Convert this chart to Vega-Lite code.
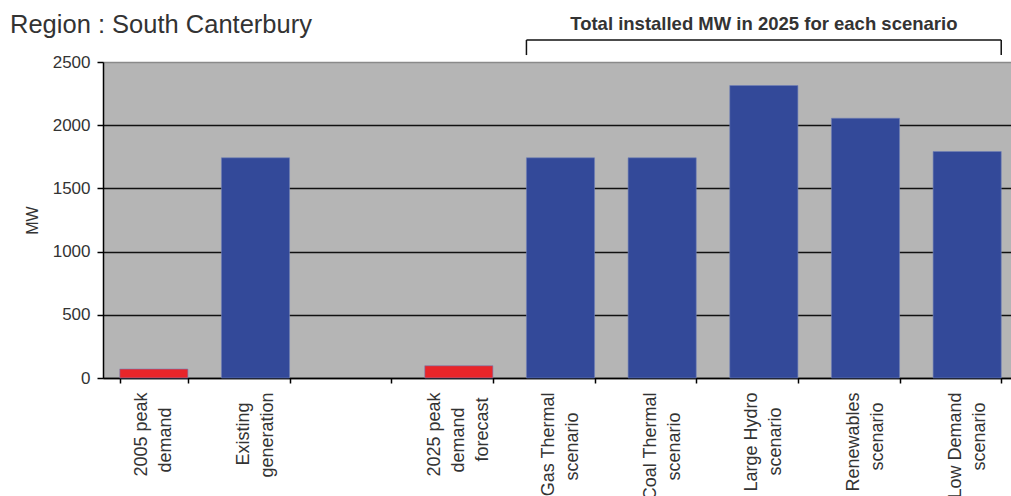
{
  "$schema": "https://vega.github.io/schema/vega-lite/v6.json",
  "autosize": "none",
  "padding": {"left": 103, "top": 62, "right": 0, "bottom": 118},
  "width": 915,
  "height": 316,
  "background": "#ffffff",
  "title": {
    "text": "Region : South Canterbury",
    "anchor": "start",
    "frame": "group",
    "font": "Liberation Sans",
    "fontSize": 25.5,
    "fontWeight": "normal",
    "color": "#333333",
    "dx": -93,
    "offset": 0,
    "dy": 23
  },
  "config": {
    "font": "Liberation Sans",
    "view": {"fill": "#b5b5b5", "stroke": "#8a8a8a", "strokeWidth": 1}
  },
  "datasets": {
    "capacity": [
      {"category": "2005 peak|demand", "type": "demand", "mw": 71},
      {"category": "Existing|generation", "type": "generation", "mw": 1742},
      {"category": "2025 peak|demand|forecast", "type": "demand", "mw": 97},
      {"category": "Gas  Thermal|scenario", "type": "generation", "mw": 1742},
      {"category": "Coal Thermal|scenario", "type": "generation", "mw": 1742},
      {"category": "Large Hydro|scenario", "type": "generation", "mw": 2314},
      {"category": "Renewables|scenario", "type": "generation", "mw": 2055},
      {"category": "Low Demand|scenario", "type": "generation", "mw": 1792}
    ]
  },
  "data": {"name": "capacity"},
  "layer": [
    {
      "mark": {"type": "bar", "stroke": "#7080b8", "strokeWidth": 1, "strokeOpacity": 0.6},
      "encoding": {
        "x": {
          "field": "category",
          "type": "nominal",
          "sort": null,
          "scale": {
            "domain": [
              "2005 peak|demand",
              "Existing|generation",
              " ",
              "2025 peak|demand|forecast",
              "Gas  Thermal|scenario",
              "Coal Thermal|scenario",
              "Large Hydro|scenario",
              "Renewables|scenario",
              "Low Demand|scenario"
            ],
            "paddingInner": 0.33,
            "paddingOuter": 0.165
          },
          "axis": {
            "title": null,
            "labelExpr": "length(split(datum.label, '|')) == 3 ? [pad(split(datum.label, '|')[0], max(length(split(datum.label, '|')[0]), length(split(datum.label, '|')[1]), length(split(datum.label, '|')[2])), '\u00a0') + '\u200b', pad(split(datum.label, '|')[1], max(length(split(datum.label, '|')[0]), length(split(datum.label, '|')[1]), length(split(datum.label, '|')[2])), '\u00a0') + '\u200b', pad(split(datum.label, '|')[2], max(length(split(datum.label, '|')[0]), length(split(datum.label, '|')[1]), length(split(datum.label, '|')[2])), '\u00a0') + '\u200b'] : length(split(datum.label, '|')) == 2 ? [pad(split(datum.label, '|')[0], max(length(split(datum.label, '|')[0]), length(split(datum.label, '|')[1])), '\u00a0') + '\u200b', pad(split(datum.label, '|')[1], max(length(split(datum.label, '|')[0]), length(split(datum.label, '|')[1])), '\u00a0') + '\u200b'] : datum.label",
            "labelAngle": -90,
            "labelFontSize": 18,
            "labelLineHeight": 24,
            "labelColor": "#333333",
            "labelPadding": 9,
            "labelLimit": 400,
            "labelOffset": {
              "condition": {"test": "length(split(datum.value, '|')) == 3", "value": -24},
              "value": -12
            },
            "tickBand": "extent",
            "tickColor": "#000000",
            "tickSize": 5,
            "tickWidth": 1.5,
            "domainColor": "#000000",
            "domainWidth": 1.5,
            "grid": false
          }
        },
        "y": {
          "field": "mw",
          "type": "quantitative",
          "scale": {"domain": [0, 2500], "nice": false},
          "axis": {
            "title": "MW",
            "titleFontSize": 16,
            "titleFontWeight": "normal",
            "titleColor": "#333333",
            "titlePadding": 12,
            "values": [0, 500, 1000, 1500, 2000, 2500],
            "format": "d",
            "labelFontSize": 17,
            "labelColor": "#333333",
            "labelPadding": 7,
            "tickColor": "#000000",
            "tickSize": 6,
            "tickWidth": 1.5,
            "domainColor": "#000000",
            "domainWidth": 1.5,
            "grid": true,
            "gridColor": {"condition": {"test": "datum.value >= 2500", "value": "#8a8a8a"}, "value": "#111111"},
            "gridWidth": 1.5
          }
        },
        "color": {
          "field": "type",
          "type": "nominal",
          "scale": {"domain": ["demand", "generation"], "range": ["#e8252a", "#334999"]},
          "legend": null
        }
      }
    },
    {
      "data": {"values": [{}]},
      "mark": {"type": "rule", "color": "#111111", "strokeWidth": 1.5},
      "encoding": {
        "x": {"datum": "Gas  Thermal|scenario", "type": "nominal", "bandPosition": 0},
        "x2": {"datum": "Low Demand|scenario", "bandPosition": 1},
        "y": {"datum": 2674, "type": "quantitative"}
      }
    },
    {
      "data": {"values": [{}]},
      "mark": {"type": "rule", "color": "#111111", "strokeWidth": 1.5},
      "encoding": {
        "x": {"datum": "Gas  Thermal|scenario", "type": "nominal", "bandPosition": 0},
        "y": {"datum": 2674, "type": "quantitative"},
        "y2": {"datum": 2555}
      }
    },
    {
      "data": {"values": [{}]},
      "mark": {"type": "rule", "color": "#111111", "strokeWidth": 1.5},
      "encoding": {
        "x": {"datum": "Low Demand|scenario", "type": "nominal", "bandPosition": 1},
        "y": {"datum": 2674, "type": "quantitative"},
        "y2": {"datum": 2555}
      }
    },
    {
      "data": {"values": [{}]},
      "mark": {"type": "text", "fontSize": 18.5, "fontWeight": "bold", "color": "#333333", "baseline": "middle"},
      "encoding": {
        "x": {"datum": "Large Hydro|scenario", "type": "nominal"},
        "y": {"datum": 2800, "type": "quantitative"},
        "text": {"value": "Total installed MW in 2025 for each scenario"}
      }
    }
  ]
}
